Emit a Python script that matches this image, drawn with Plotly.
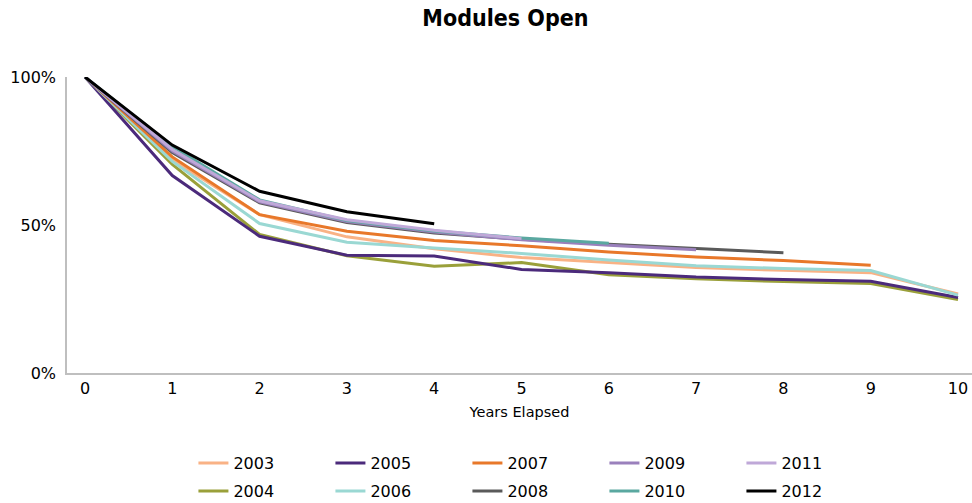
import plotly.graph_objects as go

years_elapsed = [0, 1, 2, 3, 4, 5, 6, 7, 8, 9, 10]

cohorts = ["2003", "2004", "2005", "2006", "2007", "2008", "2009", "2010", "2011", "2012"]

s2003 = [100, 72.0, 53.5, 46.0, 42.0, 39.0, 37.3, 35.6, 34.7, 33.9, 26.7]
s2004 = [100, 70.5, 46.8, 39.6, 36.1, 37.3, 33.2, 31.8, 30.9, 30.2, 24.8]
s2005 = [100, 66.7, 46.2, 39.8, 39.5, 35.0, 33.9, 32.4, 31.6, 31.0, 25.5]
s2006 = [100, 71.5, 50.5, 44.2, 42.2, 40.4, 38.2, 36.2, 35.3, 34.6, 26.3]
s2007 = [100, 73.0, 53.5, 47.9, 44.8, 43.0, 40.9, 39.2, 38.0, 36.4]
s2008 = [100, 74.5, 57.5, 50.8, 47.3, 45.2, 43.5, 42.0, 40.6]
s2009 = [100, 75.0, 57.8, 51.2, 47.6, 45.0, 43.2, 41.6]
s2010 = [100, 76.5, 58.5, 51.5, 48.0, 45.6, 43.8]
s2011 = [100, 75.5, 58.2, 51.8, 48.2, 45.4]
s2012 = [100, 77.0, 61.4, 54.5, 50.4]

series = [s2003, s2004, s2005, s2006, s2007, s2008, s2009, s2010, s2011, s2012]
colors = ["#F9B285", "#9AA03A", "#4B2A7B", "#9AD8D3", "#E8782A",
          "#5A5A5A", "#9A80BC", "#5AA8A0", "#BFA8D8", "#000000"]

font_family = "DejaVu Sans, Liberation Sans, sans-serif"
title_family = "DejaVu Sans Condensed, DejaVu Sans, sans-serif"

fig = go.Figure()
for i, (name, vals, col) in enumerate(zip(cohorts, series, colors)):
    fig.add_trace(go.Scatter(
        x=years_elapsed[:len(vals)],
        y=[v / 100 for v in vals],
        mode="lines",
        name=name,
        line=dict(color=col, width=3),
        cliponaxis=False,
        legend="legend" if i % 2 == 0 else "legend2",
    ))

legend_common = dict(
    orientation="h",
    xref="container",
    yref="container",
    xanchor="left",
    yanchor="middle",
    x=0.199,
    font=dict(family=font_family, size=16, color="#000000"),
    itemwidth=30,
    entrywidth=92,
    entrywidthmode="pixels",
    bgcolor="rgba(0,0,0,0)",
    traceorder="normal",
)

fig.update_layout(
    width=972,
    height=503,
    margin=dict(l=67, r=0, t=77, b=130, autoexpand=False),
    paper_bgcolor="white",
    plot_bgcolor="white",
    title=dict(
        text="<b>Modules Open</b>",
        x=0.52,
        xanchor="center",
        y=0.965,
        yanchor="middle",
        font=dict(family=title_family, size=23, color="#000000"),
    ),
    xaxis=dict(
        range=[-0.206, 10.16],
        tickmode="array",
        tickvals=years_elapsed,
        ticktext=[str(v) for v in years_elapsed],
        showgrid=False,
        zeroline=False,
        showline=True,
        linecolor="#BFBFBF",
        linewidth=1.5,
        ticks="",
        tickfont=dict(family=font_family, size=16, color="#000000"),
        title=dict(text="Years Elapsed", standoff=10,
                   font=dict(family=font_family, size=14.5, color="#000000")),
    ),
    yaxis=dict(
        range=[0, 1],
        tickmode="array",
        tickvals=[0, 0.5, 1],
        ticktext=["0%", "50%", "100%"],
        showgrid=False,
        zeroline=False,
        showline=True,
        linecolor="#BFBFBF",
        linewidth=1.5,
        ticks="",
        ticklabelstandoff=6,
        tickfont=dict(family=font_family, size=16, color="#000000"),
    ),
    legend=dict(legend_common, y=1 - 463 / 503),
    legend2=dict(legend_common, y=1 - 491 / 503),
    showlegend=True,
)

fig.write_html("out.html")
